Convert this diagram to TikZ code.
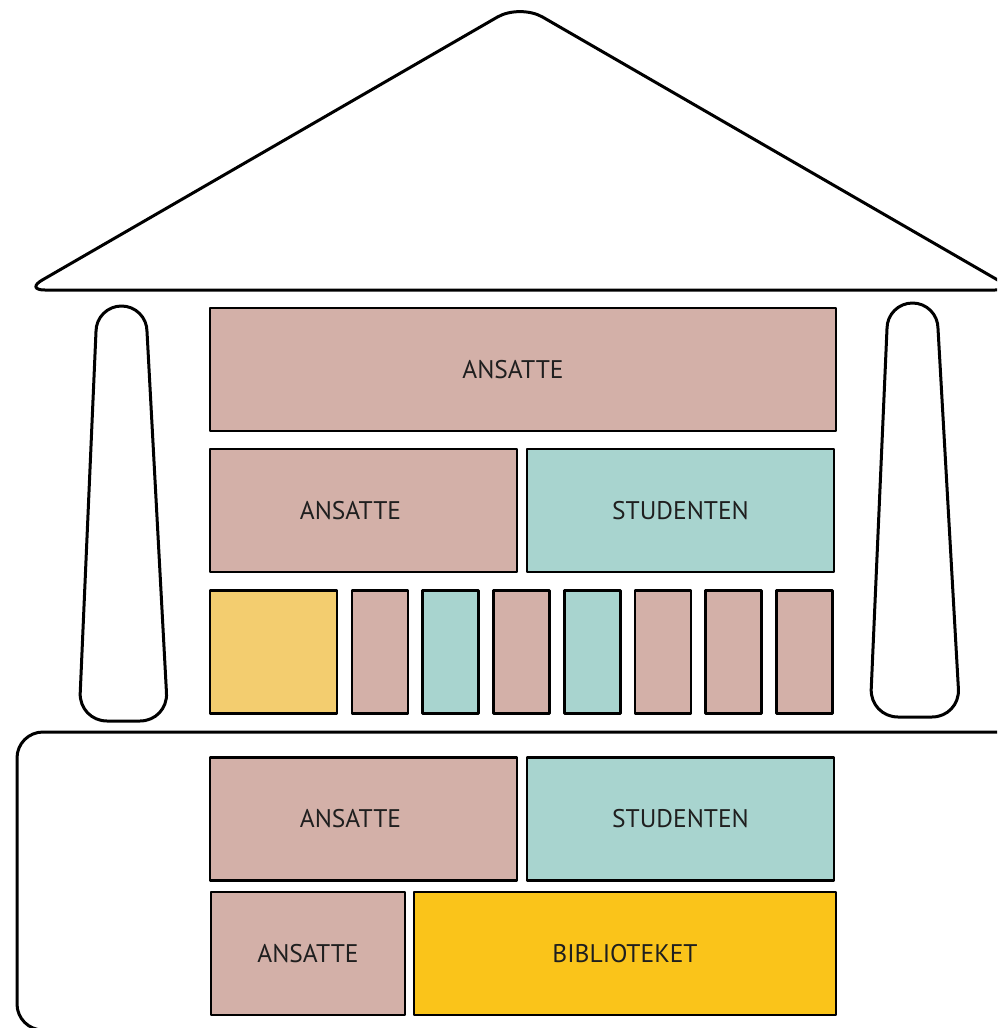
\documentclass[tikz,border=0pt]{standalone}
\usepackage{fontspec}
\setmainfont{PT Sans}
\usepackage{xcolor}
\definecolor{staffpink}{RGB}{211,176,168}
\definecolor{studteal}{RGB}{168,212,207}
\definecolor{paleyellow}{RGB}{243,205,111}
\definecolor{libyellow}{RGB}{250,196,26}
\tikzset{
  outline/.style={draw, line width=3pt},
  cell/.style={draw, line width=2.6pt, inner sep=0pt, minimum height=123pt},
  lbl/.style={font=\fontsize{25.5}{30}\selectfont, text=black!88},
  every picture/.style={line cap=round, line join=round}
}
\begin{document}
\begin{tikzpicture}[x=1pt,y=-1pt]
    \useasboundingbox (0,0) rectangle (997,1028);
    \clip (0,0) rectangle (997,1028);

    % roof
    \draw[outline] (520,290) [rounded corners=20pt] -- (25,290)
      [rounded corners=26pt] -- (520,4) [rounded corners=20pt] -- (1015,290) -- cycle;

    % columns
    \draw[outline] (147,331.5) [rounded corners=28pt] -- (168,721) -- (79,721)
      [sharp corners] -- (96,331.5) arc[start angle=180, end angle=360, radius=25.5] -- cycle;
    \draw[outline] (938,328.5) [rounded corners=28pt] -- (960,717) -- (870,717)
      [sharp corners] -- (887,328.5) arc[start angle=180, end angle=360, radius=25.5] -- cycle;

    % base
    \draw[outline, rounded corners=26pt] (1020,732) -- (17,732) -- (17,1030) -- (1020,1030);

    \foreach \name/\x/\y/\w/\col in {
      top/523/369.5/626/staffpink,
      midl/363.5/510.5/307/staffpink, midr/680.5/510.5/307/studteal,
      wide/273.5/652/127/paleyellow,
      lowl/363.5/819/307/staffpink, lowr/680.5/819/307/studteal,
      footl/308/953.5/194/staffpink, footr/625/953.5/422/libyellow}
    {
      \node[cell, fill=\col, minimum width=\w pt] (\name) at (\x,\y) {};
    }

    \foreach \i/\col in {0/staffpink,1/studteal,2/staffpink,3/studteal,4/staffpink,5/staffpink,6/staffpink}
    {
      \node[cell, fill=\col, minimum width=56pt] (slot\i) at ({380+70.75*\i},652) {};
    }

    \node[lbl] (topt) at ([xshift=-10pt]top.center) {ANSATTE};
    \node[lbl] (midlt) at ([xshift=-13pt]midl.center) {ANSATTE};
    \node[lbl] (midrt) at (midr.center) {STUDENTEN};
    \node[lbl] (lowlt) at ([xshift=-13pt]lowl.center) {ANSATTE};
    \node[lbl] (lowrt) at (lowr.center) {STUDENTEN};
    \node[lbl] (footlt) at (footl.center) {ANSATTE};
    \node[lbl] (footrt) at (footr.center) {BIBLIOTEKET};
  \end{tikzpicture}
\end{document}
